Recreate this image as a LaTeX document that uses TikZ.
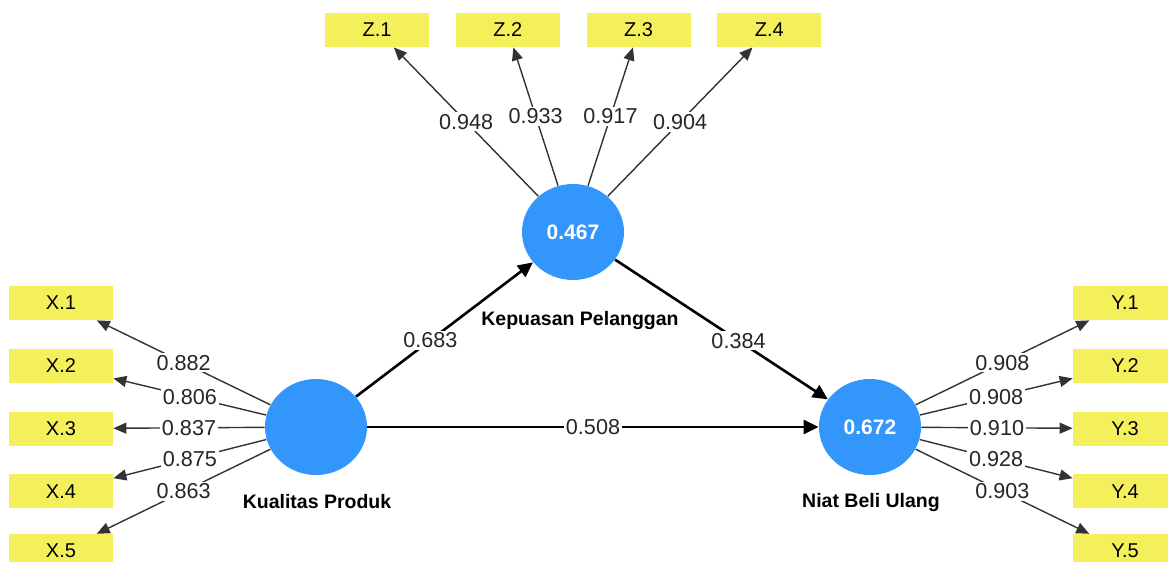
\documentclass[tikz,border=0pt]{standalone}
\usepackage{fontspec}
\setmainfont{Liberation Sans}
\usetikzlibrary{arrows.meta,positioning,shapes.geometric}
\definecolor{Sky}{HTML}{3396FA}
\definecolor{Lemon}{HTML}{F4F05C}

\begin{document}
\begin{tikzpicture}[x=.5pt,y=-.5pt,
latent/.style={ellipse,fill=Sky,minimum width=51pt,minimum height=48pt,inner sep=0pt,text=white,font=\fontsize{10.5}{12}\selectfont\bfseries},
ind/.style={fill=Lemon,minimum width=52pt,minimum height=17pt,inner sep=0pt,font=\fontsize{10}{12}\selectfont},
construct/.style={font=\fontsize{9.75}{12}\selectfont\bfseries},
load/.style={-{Triangle[length=6.5pt,width=5.5pt]},line width=.7pt,draw=black!80},
effect/.style={-{Triangle[length=7.5pt,width=7pt]},line width=1.3pt},
coef/.style={fill=white,inner sep=1pt,font=\fontsize{10.8}{12}\selectfont,text=black!85}]
\useasboundingbox (0,0) rectangle (1168,562);
% latent variables
\node[latent](kp) at (316,427){};
\node[latent](kpl) at (573,232){0.467};
\node[latent](nbu) at (870,427){0.672};
\node[construct](kplab) at (317,502){Kualitas Produk};
\node[construct](kpllab) at (580,320){Kepuasan Pelanggan};
\node[construct](nbulab) at (871,502){Niat Beli Ulang};
% indicators
\node[ind](x1) at (61,303){X.1};
\node[ind,below=14pt of x1](x2){X.2};
\node[ind,below=14pt of x2](x3){X.3};
\node[ind,below=14pt of x3](x4){X.4};
\node[ind,below=12.5pt of x4](x5){X.5};
\node[ind](y1) at (1125,303){Y.1};
\node[ind,below=14pt of y1](y2){Y.2};
\node[ind,below=14pt of y2](y3){Y.3};
\node[ind,below=14pt of y3](y4){Y.4};
\node[ind,below=12.5pt of y4](y5){Y.5};
\node[ind](z1) at (377,30){Z.1};
\node[ind,right=13pt of z1](z2){Z.2};
\node[ind,right=13pt of z2](z3){Z.3};
\node[ind,right=13pt of z3](z4){Z.4};
% loadings
\draw[load](kp)--node[coef]{0.882}(x1);\draw[load](kp)--node[coef]{0.806}(x2);\draw[load](kp)--node[coef]{0.837}(x3);
\draw[load](kp)--node[coef]{0.875}(x4);\draw[load](kp)--node[coef]{0.863}(x5);
\draw[load](nbu)--node[coef]{0.908}(y1);\draw[load](nbu)--node[coef]{0.908}(y2);\draw[load](nbu)--node[coef]{0.910}(y3);
\draw[load](nbu)--node[coef]{0.928}(y4);\draw[load](nbu)--node[coef]{0.903}(y5);
\draw[load](kpl)--node[coef]{0.948}(z1);\draw[load](kpl)--node[coef]{0.933}(z2);
\draw[load](kpl)--node[coef]{0.917}(z3);\draw[load](kpl)--node[coef]{0.904}(z4);
% paths
\draw[effect](kp)--node[coef,pos=.42]{0.683}(kpl);
\draw[effect](kpl)--node[coef,pos=.58]{0.384}(nbu);
\draw[effect](kp)--node[coef]{0.508}(nbu);
\end{tikzpicture}
\end{document}
